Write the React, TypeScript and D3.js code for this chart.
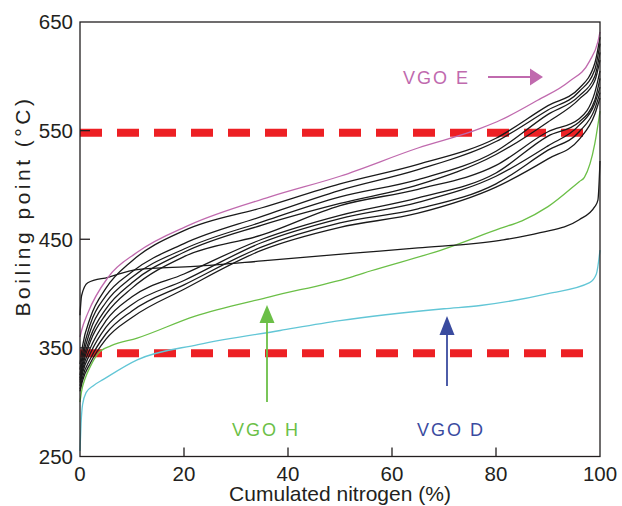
import React from "react";
import * as d3 from "d3";

const W = 622, H = 506;
const xTicks = [0, 20, 40, 60, 80, 100];
const yTicks = [250, 350, 450, 550, 650];
const limitLines = [548, 345];

const vgoE_x = [0, 0.3, 1.5, 5.4, 11, 21, 36.5, 50, 65, 77, 81, 88, 94, 98, 99.6, 100];
const vgoE_y = [360, 366, 382, 415, 438, 463, 489, 508, 534, 552, 560, 578, 595, 614, 632, 641];

const vgoH_x = [0, 0.3, 1, 2, 3.5, 6, 11, 22, 36.5, 52, 56, 70, 80.8, 85, 90, 96, 97, 99, 100];
const vgoH_y = [300, 310, 322, 333, 345, 352, 359, 379, 397, 415, 421, 441, 460, 467, 480, 503, 507, 538, 568];

const vgoD_x = [0, 0.2, 0.5, 1.2, 2.5, 4.5, 11, 22.7, 38.5, 50, 70, 77, 90, 98, 99.3, 100];
const vgoD_y = [255, 280, 298, 309, 315, 321, 339, 353, 366, 375, 386, 389, 400, 410, 418, 440];

const flat_x = [0, 0.3, 1.5, 5.4, 11, 22, 35, 52, 65, 80.8, 88.5, 96, 99, 99.6, 100];
const flat_y = [380, 398, 410, 415, 422, 425, 430, 437, 442, 449, 456, 468, 480, 486, 522];

const black_x = [0, 0.5, 2, 5, 10, 20, 35, 50, 65, 80, 90, 96, 99, 100];
const black1 = [335, 352, 378, 405, 430, 458, 479, 501, 519, 543, 573, 589, 612, 636];
const black2 = [330, 345, 372, 398, 420, 446, 471, 495, 514, 540, 569, 586, 606, 630];
const black3 = [325, 340, 366, 392, 415, 441, 466, 489, 505, 531, 565, 582, 600, 622];
const black4 = [322, 336, 360, 386, 410, 438, 463, 483, 500, 528, 558, 579, 596, 615];
const black5 = [320, 333, 356, 381, 405, 434, 454, 481, 496, 518, 549, 561, 585, 605];
const black6 = [318, 330, 350, 375, 397, 418, 450, 472, 488, 511, 545, 558, 578, 598];
const black7 = [315, 327, 345, 369, 390, 412, 447, 469, 484, 508, 536, 555, 575, 590];
const black8 = [312, 323, 340, 363, 384, 408, 443, 465, 478, 501, 532, 549, 570, 585];
const black9 = [310, 320, 336, 358, 378, 404, 440, 461, 474, 498, 524, 542, 565, 580];
const blackSeries = [black1, black2, black3, black4, black5, black6, black7, black8, black9];

const PINK = "#c06aae", GREEN = "#6bbf47", CYAN = "#62c6d6", BLUE = "#3a4b9f", RED = "#ed2024", AX = "#231f20";
const FONT = "'Liberation Sans', Arial, sans-serif";

export default function App() {
  const x = d3.scaleLinear().domain([0, 100]).range([80, 600]);
  const y = d3.scaleLinear().domain([250, 650]).range([456.5, 22]);
  const line = d3
    .line<[number, number]>()
    .x((d) => x(d[0]))
    .y((d) => y(d[1]))
    .curve(d3.curveMonotoneX);
  const path = (xs: number[], ys: number[]) => line(xs.map((v, i) => [v, ys[i]]) as [number, number][]) || "";

  return (
    <svg width={W} height={H} style={{ position: "absolute", left: 0, top: 0, background: "#fff" }} fontFamily={FONT}>
      <rect x={0} y={0} width={W} height={H} fill="#fff" />
      {limitLines.map((v) => (
        <line key={v} x1={x(0)} x2={x(97.2)} y1={y(v)} y2={y(v)} stroke={RED} strokeWidth={8} strokeDasharray="22 15" />
      ))}
      <path d={path(vgoD_x, vgoD_y)} fill="none" stroke={CYAN} strokeWidth={1.3} />
      <path d={path(vgoH_x, vgoH_y)} fill="none" stroke={GREEN} strokeWidth={1.3} />
      {blackSeries.map((s, i) => (
        <path key={i} d={path(black_x, s)} fill="none" stroke="#1a1a1a" strokeWidth={1.3} />
      ))}
      <path d={path(flat_x, flat_y)} fill="none" stroke="#1a1a1a" strokeWidth={1.3} />
      <path d={path(vgoE_x, vgoE_y)} fill="none" stroke={PINK} strokeWidth={1.3} />

      <rect x={x(0)} y={y(650)} width={x(100) - x(0)} height={y(250) - y(650)} fill="none" stroke={AX} strokeWidth={1.3} />
      {yTicks.slice(1, -1).map((t) => (
        <line key={t} x1={x(0)} x2={x(0) + 10} y1={y(t)} y2={y(t)} stroke={AX} strokeWidth={1.3} />
      ))}
      {xTicks.slice(1, -1).map((t) => (
        <line key={t} x1={x(t)} x2={x(t)} y1={y(250)} y2={y(250) - 9} stroke={AX} strokeWidth={1.3} />
      ))}
      {yTicks.map((t) => (
        <text key={t} x={x(0) - 7} y={y(t)} dy="0.36em" textAnchor="end" fontSize={20.5} fill={AX}>
          {t}
        </text>
      ))}
      {xTicks.map((t) => (
        <text key={t} x={x(t)} y={y(250) + 24} textAnchor="middle" fontSize={20.5} fill={AX}>
          {t}
        </text>
      ))}
      <text x={340} y={501} textAnchor="middle" fontSize={21} fill={AX}>
        Cumulated nitrogen (%)
      </text>
      <text transform={`translate(30,${206}) rotate(-90)`} textAnchor="middle" fontSize={21} fill={AX} letterSpacing={3.5}>
        Boiling point (°C)
      </text>

      <text x={403} y={84} fontSize={18} fill={PINK} letterSpacing={2}>VGO E</text>
      <line x1={488} x2={531} y1={77} y2={77} stroke={PINK} strokeWidth={1.8} />
      <polygon points="530,68.5 543,77 530,85.5" fill={PINK} />

      <text x={266} y={436} textAnchor="middle" fontSize={18} fill={GREEN} letterSpacing={2}>VGO H</text>
      <line x1={267} x2={267} y1={402} y2={320} stroke={GREEN} strokeWidth={1.8} />
      <polygon points="259.5,323 267,305 274.5,323" fill={GREEN} />

      <text x={451} y={436} textAnchor="middle" fontSize={18} fill={BLUE} letterSpacing={2}>VGO D</text>
      <line x1={447} x2={447} y1={386} y2={332} stroke={BLUE} strokeWidth={1.8} />
      <polygon points="439.5,335 447,316 454.5,335" fill={BLUE} />
    </svg>
  );
}
